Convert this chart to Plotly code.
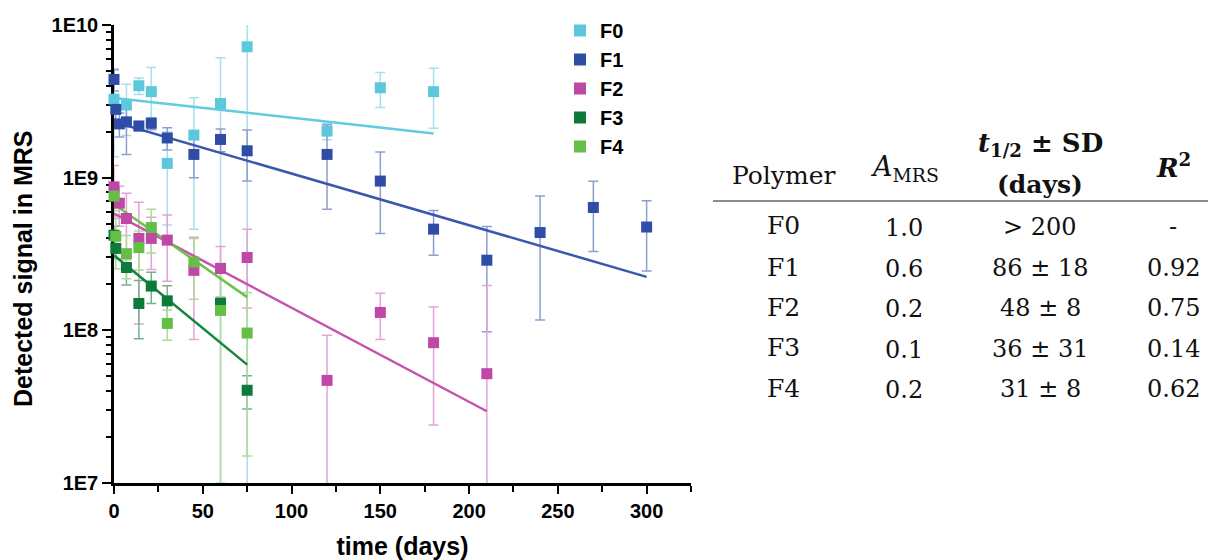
import plotly.graph_objects as go

W, H = 1208, 560
ML, MR, MT, MB = 114, 517, 25, 77

# ---------------- data ----------------
names = ["F0", "F1", "F2", "F3", "F4"]

F0_t = [0, 7, 14, 21, 30, 45, 60, 75, 120, 150, 180]
F0_y = [3.27e9, 2.99e9, 4.0e9, 3.66e9, 1.24e9, 1.9e9, 3.06e9, 7.2e9, 2.02e9, 3.88e9, 3.66e9]
F0_err = [1.9e9, 1.1e9, 0.5e9, 1.6e9, 0.75e9, 1.44e9, 3.05e9, 7.6e9, 0.25e9, 1.0e9, 1.55e9]

F1_t = [0, 1, 3, 7, 14, 21, 30, 45, 60, 75, 120, 150, 180, 210, 240, 270, 300]
F1_y = [4.4e9, 2.8e9, 2.25e9, 2.32e9, 2.18e9, 2.27e9, 1.82e9, 1.42e9, 1.78e9, 1.5e9,
        1.42e9, 9.5e8, 4.6e8, 2.88e8, 4.37e8, 6.38e8, 4.75e8]
F1_err = [0.7e9, 0.5e9, 0.4e9, 0.9e9, 0.15e9, 0.2e9, 0.3e9, 0.42e9, 0.3e9, 0.55e9,
          0.8e9, 0.52e9, 0.15e9, 1.9e8, 3.2e8, 3.1e8, 2.3e8]

F2_t = [0, 3, 7, 14, 21, 30, 45, 60, 75, 120, 150, 180, 210]
F2_y = [8.7e8, 6.8e8, 5.4e8, 4.0e8, 4.0e8, 3.9e8, 2.47e8, 2.54e8, 3.0e8, 4.7e7, 1.31e8, 8.3e7, 5.2e7]
F2_err = [3.3e8, 2.0e8, 2.5e8, 2.9e8, 1.5e8, 1.8e8, 1.6e8, 1.0e8, 1.6e8, 4.6e7, 4.4e7, 5.9e7, 1.45e8]

F3_t = [0, 1, 7, 14, 21, 30, 60, 75]
F3_y = [4.2e8, 3.44e8, 2.58e8, 1.5e8, 1.95e8, 1.56e8, 1.5e8, 4.05e7]
F3_err = [0.6e8, 0.5e8, 0.6e8, 0.62e8, 0.45e8, 0.4e8, 0.15e8, 1.0e7]

F4_t = [0, 1, 7, 14, 21, 30, 45, 60, 75]
F4_y = [7.57e8, 4.13e8, 3.18e8, 3.48e8, 4.71e8, 1.11e8, 2.8e8, 1.35e8, 9.6e7]
F4_err = [1.5e8, 1.6e8, 1.0e8, 1.0e8, 1.5e8, 0.25e8, 1.2e8, 1.4e8, 8.1e7]

# exponential-decay fits (straight on log axis): start/end times and values
fit_t = [[0, 180], [0, 300], [0, 210], [0, 75], [0, 75]]
fit_y = [[3.33e9, 1.95e9], [2.32e9, 2.24e8], [5.82e8, 2.95e7], [3.1e8, 5.96e7], [6.7e8, 1.65e8]]

# table
tbl_polymer = ["F0", "F1", "F2", "F3", "F4"]
tbl_amrs = ["1.0", "0.6", "0.2", "0.1", "0.2"]
tbl_thalf = ["&gt; 200", "86 ± 18", "48 ± 8", "36 ± 31", "31 ± 8"]
tbl_r2 = ["-", "0.92", "0.75", "0.14", "0.62"]

# axis ticks
x_major = [0, 50, 100, 150, 200, 250, 300]
x_minor = [25, 75, 125, 175, 225, 275, 325]
y_major = [1e7, 1e8, 1e9, 1e10]
y_labels = ["1E7", "1E8", "1E9", "1E10"]
y_minor = [m * 10 ** e for e in (7, 8, 9) for m in range(2, 10)]

# ---------------- style ----------------
mk_col = ["#5cc8dc", "#2f4ca6", "#bf48a6", "#0b7a3a", "#66be46"]
err_col = ["#a6e0eb", "#8f9ed2", "#e3a3d6", "#74b28e", "#acdb98"]
fit_col = ["#63cbe0", "#3b57ae", "#c653ae", "#16853f", "#6cc24a"]

T = [F0_t, F1_t, F2_t, F3_t, F4_t]
Yv = [F0_y, F1_y, F2_y, F3_y, F4_y]
E = [F0_err, F1_err, F2_err, F3_err, F4_err]

fig = go.Figure()

for i in range(5):
    fig.add_trace(go.Scatter(
        x=T[i], y=Yv[i], mode="markers",
        marker=dict(size=11, opacity=0),
        error_y=dict(type="data", array=E[i], color=err_col[i], thickness=1.5, width=5),
        showlegend=False, hoverinfo="skip", cliponaxis=True))

for i in range(5):
    fig.add_trace(go.Scatter(
        x=fit_t[i], y=fit_y[i], mode="lines",
        line=dict(color=fit_col[i], width=2.5),
        showlegend=False, hoverinfo="skip"))

for i in range(5):
    fig.add_trace(go.Scatter(
        x=T[i], y=Yv[i], mode="markers", name=names[i],
        marker=dict(symbol="square", size=11, color=mk_col[i], line=dict(width=0)),
        cliponaxis=False))

sans = "Liberation Sans, Arial, sans-serif"
font_ax = dict(family=sans, size=20, color="black", weight="bold")

fig.update_xaxes(
    range=[0, 325], showline=True, linewidth=2.5, linecolor="black",
    showgrid=False, zeroline=False, layer="below traces",
    tickmode="array", tickvals=x_major, ticktext=[str(v) for v in x_major],
    ticks="outside", ticklen=8, tickwidth=2, tickcolor="black",
    minor=dict(tickmode="array", tickvals=x_minor, ticks="outside", ticklen=6,
               tickwidth=2, tickcolor="black", showgrid=False),
    tickfont=font_ax,
    title=dict(text="time (days)", standoff=20,
               font=dict(family=sans, size=25, color="black", weight="bold")))

fig.update_yaxes(
    type="log", range=[7, 10], showline=True, linewidth=2.5, linecolor="black",
    showgrid=False, zeroline=False, layer="below traces",
    tickmode="array", tickvals=y_major, ticktext=y_labels,
    ticks="outside", ticklen=9, tickwidth=2, tickcolor="black",
    minor=dict(tickmode="array", tickvals=y_minor, ticks="outside", ticklen=5,
               tickwidth=1.5, tickcolor="black", showgrid=False),
    tickfont=font_ax)


def X(px):
    return (px - ML) / (W - ML - MR)


def Yp(py):
    return (H - MB - py) / (H - MT - MB)


serif = "DejaVu Serif, Liberation Serif, serif"
tc = "#111111"
ann = []

# y-axis title (placed as rotated text to match the reference position)
ann.append(dict(text="Detected signal in MRS", x=X(23), y=Yp(269), xref="paper", yref="paper",
                xanchor="center", yanchor="middle", showarrow=False, textangle=-90,
                font=dict(family=sans, size=25, color="black", weight="bold")))


def add(text, px, py, size=24, bold=False):
    ann.append(dict(text=text, x=X(px), y=Yp(py), xref="paper", yref="paper",
                    xanchor="center", yanchor="middle", showarrow=False,
                    font=dict(family=serif, size=size, color=tc,
                              weight="bold" if bold else "normal")))


cols = [783, 904, 1040, 1173]
add("Polymer", cols[0], 175, 25)
add("<i>A</i><sub>MRS</sub>", cols[1], 168, 27)
add("<i>t</i><sub>1/2</sub> ± SD", cols[2], 145, 26, bold=True)
add("(days)", cols[2], 184, 25, bold=True)
add("<i>R</i><sup>2</sup>", cols[3], 166, 26, bold=True)

rows = [226, 267, 307, 348, 388]
for r in range(5):
    add(tbl_polymer[r], cols[0], rows[r], 25)
    add(tbl_amrs[r], cols[1], rows[r] + 2, 24)
    add(tbl_thalf[r], cols[2], rows[r] + 1, 24)
    add(tbl_r2[r], cols[3], rows[r] + 1, 24)

fig.update_layout(
    width=W, height=H,
    margin=dict(l=ML, r=MR, t=MT, b=MB, autoexpand=False),
    plot_bgcolor="white", paper_bgcolor="white",
    showlegend=True,
    legend=dict(x=X(560), y=Yp(11), xanchor="left", yanchor="top",
                bgcolor="rgba(0,0,0,0)", borderwidth=0,
                font=dict(family=sans, size=20, color="black", weight="bold"),
                itemsizing="constant"),
    annotations=ann,
    shapes=[dict(type="line", xref="paper", yref="paper",
                 x0=X(713), x1=X(1208), y0=Yp(201), y1=Yp(201),
                 line=dict(color="#8c8c8c", width=2))],
)

fig.write_html("out.html")
